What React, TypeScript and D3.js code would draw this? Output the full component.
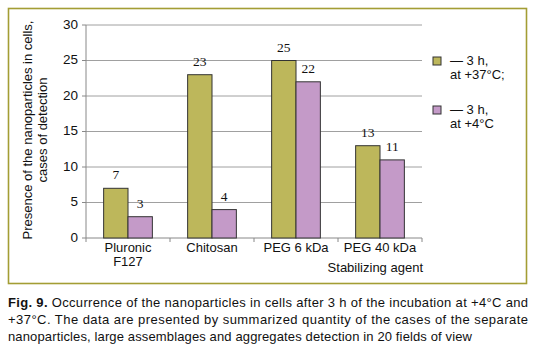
import * as d3 from 'd3';

const categories = ['Pluronic\nF127', 'Chitosan', 'PEG 6 kDa', 'PEG 40 kDa'];
const hot = [7, 23, 25, 13];   // 3 h at +37°C
const cold = [3, 4, 22, 11];   // 3 h at +4°C
const yTicks = [0, 5, 10, 15, 20, 25, 30];
const seriesNames = [['— 3 h,', 'at +37°C;'], ['— 3 h,', 'at +4°C']];
const colors = ['#bdb75b', '#c49ac8'];

const sans = '"Liberation Sans", Arial, sans-serif';
const serif = '"Liberation Serif", "Times New Roman", serif';

export default function App() {
  const width = 536;
  const height = 354;
  const left = 86, right = 422, top = 25, bottom = 238;

  const x = d3.scaleBand().domain(categories).range([left, right]).paddingInner(0.42).paddingOuter(0.21);
  const sub = d3.scaleBand().domain(['hot', 'cold']).range([0, x.bandwidth()]);
  const y = d3.scaleLinear().domain([0, 30]).range([bottom, top]);
  const step = (right - left) / categories.length;

  const series = [hot, cold];

  return (
    <svg width={width} height={height} style={{ position: 'absolute', left: 0, top: 0, background: '#fff' }}>
      {/* frame */}
      <rect x={8.5} y={8.5} width={518} height={275} fill="none" stroke="#a39d34" strokeWidth={1.6} />

      {/* grid */}
      {yTicks.map(t => (
        <g key={t}>
          <line x1={left} x2={right} y1={y(t)} y2={y(t)} stroke={t === 0 ? '#888' : '#a0a0a0'} strokeWidth={1} />
          <line x1={left - 4} x2={left} y1={y(t)} y2={y(t)} stroke="#888" />
          <text x={78} y={y(t)} textAnchor="end" dominantBaseline="middle" fontFamily={sans} fontSize={13.5} fill="#111">{t}</text>
        </g>
      ))}
      <line x1={left} x2={left} y1={top} y2={bottom} stroke="#888" />
      {d3.range(categories.length + 1).map(i => (
        <line key={i} x1={left + i * step} x2={left + i * step} y1={bottom} y2={bottom + 4} stroke="#888" />
      ))}

      {/* bars */}
      {categories.map((c, i) => (
        <g key={c} transform={`translate(${x(c)},0)`}>
          {series.map((s, j) => {
            const bx = sub(j === 0 ? 'hot' : 'cold')!;
            return (
              <g key={j}>
                <rect x={bx} y={y(s[i])} width={sub.bandwidth()} height={bottom - y(s[i])}
                  fill={colors[j]} stroke="#333" strokeWidth={1} />
                <text x={bx + sub.bandwidth() / 2} y={y(s[i]) - 9} textAnchor="middle"
                  fontFamily={serif} fontSize={13.5} fill="#111">{s[i]}</text>
              </g>
            );
          })}
          {c.split('\n').map((line, k) => (
            <text key={k} x={x.bandwidth() / 2} y={252 + k * 14} textAnchor="middle"
              fontFamily={sans} fontSize={13} fill="#111">{line}</text>
          ))}
        </g>
      ))}

      <text x={423} y={272} textAnchor="end" fontFamily={sans} fontSize={13} fill="#111">Stabilizing agent</text>

      {/* y-axis title */}
      <g transform="translate(36,130) rotate(-90)" fontFamily={sans} fontSize={13} fill="#111">
        <text x={0} y={-4} textAnchor="middle">Presence of the nanoparticles in cells,</text>
        <text x={0} y={11} textAnchor="middle">cases of detection</text>
      </g>

      {/* legend */}
      {seriesNames.map((lines, j) => (
        <g key={j} transform={`translate(433,${57 + j * 49})`}>
          <rect x={0} y={0} width={8} height={8} fill={colors[j]} stroke="#333" strokeWidth={1} />
          <text x={17} y={8} fontFamily={sans} fontSize={13} fill="#111">{lines[0]}</text>
          <text x={17} y={22} fontFamily={sans} fontSize={13} fill="#111">{lines[1]}</text>
        </g>
      ))}

      {/* caption */}
      <g fontFamily={sans} fontSize={13} fill="#111">
        <text x={8} y={307} textLength={520} lengthAdjust="spacing">
          <tspan fontWeight="bold">Fig. 9.</tspan> Occurrence of the nanoparticles in cells after 3 h of the incubation at +4°C and
        </text>
        <text x={8} y={324} textLength={520} lengthAdjust="spacing">
          +37°C. The data are presented by summarized quantity of the cases of the separate
        </text>
        <text x={8} y={341} textLength={464} lengthAdjust="spacing">
          nanoparticles, large assemblages and aggregates detection in 20 fields of view
        </text>
      </g>
    </svg>
  );
}
